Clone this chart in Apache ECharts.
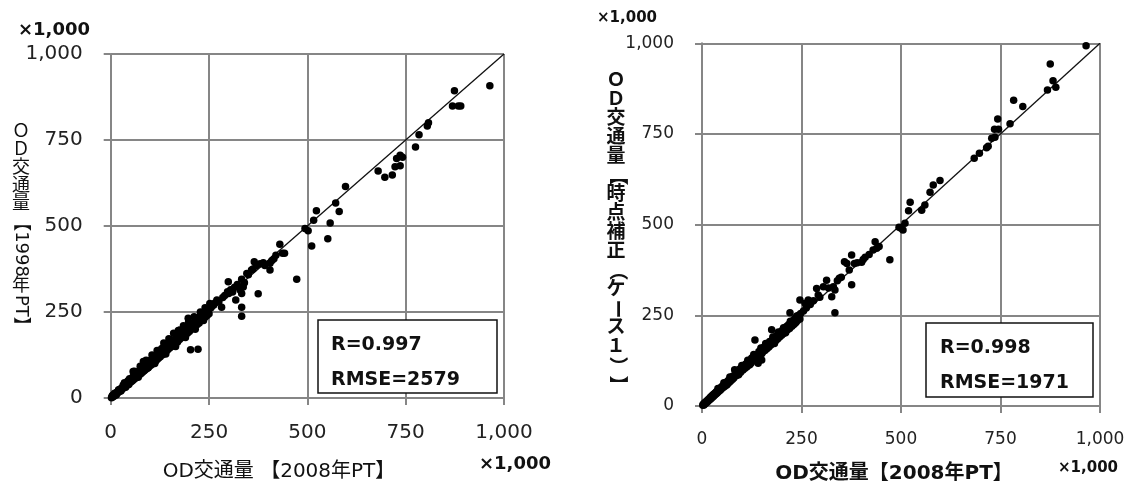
<!DOCTYPE html>
<html><head><meta charset="utf-8">
<script src="https://cdn.jsdelivr.net/npm/echarts@6/dist/echarts.min.js"></script>
<style>html,body{margin:0;padding:0;background:#fff}#c{width:1132px;height:490px}</style>
</head><body><div id="c"></div>
<script>
// ---- data (values in thousands) ----
const tickValues = [0, 250, 500, 750, 1000];
const tickLabels = ['0', '250', '500', '750', '1,000'];
const refLineX = [0, 1000];
const refLineY = [0, 1000];

// Left chart: x = OD 2008 PT, y = OD 1998 PT
const pt2008A = [2,3,5,6,8,9,10,12,13,15,16,18,19,21,22,24,25,27,28,30,31,33,34,36,37,39,40,42,43,45,47,48,50,52,5,10,14,20,26,32,38,44,46,
54,55,57,58,60,62,63,65,67,68,70,72,73,75,77,78,80,82,84,85,87,88,90,92,94,95,97,98,100,102,104,106,108,110,112,114,116,118,120,83,57,
122,124,126,128,130,132,135,137,140,142,145,147,150,152,155,157,160,162,165,168,170,172,175,176,178,180,183,185,188,190,192,195,197,198,200,203,205,208,210,213,215,218,220,223,225,228,230,233,235,238,240,243,245,248,250,203,222,151,
252,255,258,262,265,270,275,282,285,290,297,299,300,305,310,315,318,322,329,333,333,333,333,337,340,346,350,358,362,365,370,375,380,388,392,405,405,410,415,420,430,437,442,473,
494,502,511,516,523,552,558,572,581,597,680,697,716,723,727,736,736,742,775,784,805,808,869,884,890,874,964,
60,75,90,105,118,135,148,160,172,185,198,212,228,240,70,95,112,140,165,190,215,236,35,48,64,80,96,110,125,142,158,175,192,208,226,244];
const pt1998 = [1,4,3,7,5,10,8,11,14,12,17,15,20,18,23,21,26,24,29,27,33,30,36,33,39,35,42,38,45,41,48,44,52,47,8,14,9,24,20,38,31,50,39,
58,50,62,53,66,57,70,60,73,63,75,66,80,70,82,72,88,76,92,79,96,82,100,86,104,88,108,92,103,95,112,99,114,103,118,107,120,112,124,106,77,
116,130,120,140,144,126,138,150,133,155,140,160,145,165,150,160,155,170,158,175,163,180,170,198,185,175,190,178,195,184,200,188,232,205,193,212,200,215,204,220,208,225,214,230,218,240,225,243,230,248,235,250,240,255,245,140,142,169,
275,262,268,270,276,285,280,264,292,298,309,338,304,315,308,322,285,330,314,345,304,264,238,323,335,362,358,372,375,396,385,303,390,393,385,392,372,400,405,415,447,421,421,345,
493,486,442,517,544,463,509,567,542,615,660,642,648,672,696,706,675,700,730,765,791,800,849,849,849,893,908,
78,92,110,125,138,160,172,188,196,210,222,236,250,262,60,88,100,128,150,176,200,225,44,56,72,86,104,116,134,150,166,184,198,216,232,250];

// Right chart: x = OD 2008 PT, y = 時点補正(ケース1)
const pt2008B = [2,3,5,6,8,9,11,12,14,15,17,18,20,21,23,24,26,27,29,30,32,33,35,36,38,40,41,43,45,47,48,50,52,54,56,58,60,62,64,66,68,70,72,74,76,78,80,82,85,87,90,92,95,97,100,103,105,108,110,113,115,118,120,123,125,128,130,133,135,138,141,143,145,148,150,152,155,158,160,163,165,168,170,173,175,178,180,183,185,188,190,193,195,198,200,203,205,208,210,213,215,218,220,223,226,228,230,233,236,238,240,243,246,248,
221,234,246,259,267,255,262,272,280,288,292,296,305,313,318,326,330,334,334,340,345,350,358,364,370,376,376,383,390,401,405,410,420,430,435,439,445,472,
495,500,505,510,519,523,552,560,573,581,598,684,697,715,719,728,736,735,745,743,774,783,806,868,882,889,875,965,
40,55,70,88,100,115,130,148,160,178,192,205,222,238,62,92,120,150,182,210,232];
const case1 = [2,5,3,8,6,11,9,14,12,17,15,20,18,24,21,27,24,30,27,33,30,36,33,39,36,43,39,47,43,50,46,54,50,58,53,62,57,66,61,70,65,75,69,79,73,83,77,100,90,84,96,88,102,93,106,99,112,104,116,108,122,114,126,118,132,124,137,182,140,133,118,150,140,155,127,148,162,153,168,158,172,163,178,168,210,185,175,190,180,195,185,200,190,205,195,210,200,215,205,220,210,225,214,230,220,235,225,240,230,245,236,250,240,255,
257,242,292,283,292,262,270,280,290,324,306,300,329,347,325,301,329,320,257,345,352,355,398,393,375,416,334,393,395,396,404,410,418,430,453,435,440,403,
493,490,485,504,538,562,540,554,589,609,622,683,697,712,716,738,741,763,763,791,778,843,826,871,897,879,943,993,
48,64,80,98,112,126,142,160,172,190,204,216,234,248,58,86,114,144,172,202,226];

const pairs = (xs, ys) => xs.map((x, i) => [x, ys[i]]);

// ---- text helpers ----
const FAM = "'DejaVu Sans','Noto Sans CJK JP',sans-serif";
const mctx = document.createElement('canvas').getContext('2d');
function vText(str, cx, cy, size, weight) {
  const font = weight + ' ' + size + 'px ' + FAM;
  mctx.font = font;
  const segs = [];
  for (const ch of str) {
    const rot = /[A-Za-z0-9【】()（）ー]/.test(ch);
    const last = segs[segs.length - 1];
    if (rot && last && last.rot && /[A-Za-z0-9]/.test(ch) && /[A-Za-z0-9]$/.test(last.t)) last.t += ch;
    else segs.push({ t: ch, rot: rot });
  }
  segs.forEach(s => { s.len = s.rot ? mctx.measureText(s.t).width : size; });
  const total = segs.reduce((a, s) => a + s.len, 0);
  let y = cy - total / 2;
  const els = [];
  segs.forEach(s => {
    els.push({
      type: 'text', x: cx, y: y + s.len / 2, rotation: s.rot ? -Math.PI / 2 : 0, z: 100,
      style: { text: s.t, font: font, fill: '#111', align: 'center', verticalAlign: 'middle' }
    });
    y += s.len;
  });
  return els;
}
function hText(str, x, y, size, weight, align) {
  return { type: 'text', x: x, y: y, z: 100,
    style: { text: str, font: weight + ' ' + size + 'px ' + FAM, fill: '#111', align: align || 'left', verticalAlign: 'middle' } };
}
function box(x, y, w, h) {
  return { type: 'rect', z: 90, shape: { x: x, y: y, width: w, height: h },
    style: { fill: '#fff', stroke: '#111', lineWidth: 1.5 } };
}

const GRID_C = '#868686';
function axis(gi, fs, margin) {
  return {
    type: 'value', gridIndex: gi, min: 0, max: 1000, interval: 250,
    axisLine: { show: true, onZero: false, lineStyle: { color: GRID_C, width: 2 } },
    axisTick: { show: true, inside: false, length: 7, lineStyle: { color: GRID_C, width: 2 } },
    splitLine: { show: true, showMinLine: true, showMaxLine: true, lineStyle: { color: GRID_C, width: 2 } },
    axisLabel: { fontSize: fs, color: '#222', fontFamily: FAM, margin: margin,
      formatter: v => tickLabels[Math.round(v / 250)] }
  };
}

const chart = echarts.init(document.getElementById('c'));
chart.setOption({
  animation: false,
  grid: [
    { left: 110.7, top: 54, width: 393.3, height: 344 },
    { left: 702, top: 43.3, width: 398, height: 362.7 }
  ],
  xAxis: [axis(0, 20, 25), axis(1, 17, 25)],
  yAxis: [axis(0, 20, 28), axis(1, 17, 28)],
  series: [
    { type: 'line', xAxisIndex: 0, yAxisIndex: 0, data: pairs(refLineX, refLineY), symbol: 'none',
      lineStyle: { color: '#111', width: 1.3 }, z: 3 },
    { type: 'scatter', xAxisIndex: 0, yAxisIndex: 0, data: pairs(pt2008A, pt1998), symbol: 'circle', symbolSize: 7.5,
      itemStyle: { color: '#000', opacity: 1 }, z: 4 },
    { type: 'line', xAxisIndex: 1, yAxisIndex: 1, data: pairs(refLineX, refLineY), symbol: 'none',
      lineStyle: { color: '#111', width: 1.3 }, z: 3 },
    { type: 'scatter', xAxisIndex: 1, yAxisIndex: 1, data: pairs(pt2008B, case1), symbol: 'circle', symbolSize: 7.5,
      itemStyle: { color: '#000', opacity: 1 }, z: 4 }
  ],
  graphic: [].concat(
    vText('ＯＤ交通量【1998年PT】', 21, 229, 18, 'normal'),
    vText('ＯＤ交通量【時点補正（ケース１）】', 616, 233, 19, 'bold'),
    [
      hText('×1,000', 18, 30, 18, '600'),
      hText('×1,000', 479, 464, 18, '600'),
      hText('×1,000', 597, 18, 15, '600'),
      hText('×1,000', 1058, 468, 15, '600'),
      hText('OD交通量 【2008年PT】', 279, 472, 20, 'normal', 'center'),
      hText('OD交通量【2008年PT】', 894, 474, 20, 'bold', 'center'),
      box(318, 320, 179, 73),
      hText('R=0.997', 331, 345, 19, 'bold'),
      hText('RMSE=2579', 331, 380, 19, 'bold'),
      box(926, 323, 167, 74),
      hText('R=0.998', 940, 348, 19, 'bold'),
      hText('RMSE=1971', 940, 383, 19, 'bold')
    ]
  )
});
</script>
</body></html>
